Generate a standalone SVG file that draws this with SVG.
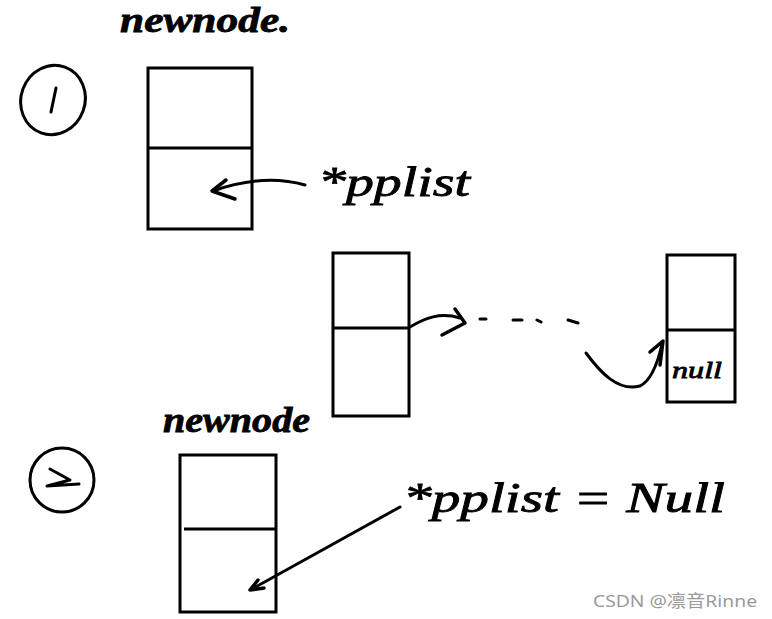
<svg xmlns="http://www.w3.org/2000/svg" width="772" height="619" viewBox="0 0 772 619">
<style>
.box{fill:none;stroke:#000;stroke-width:3}
.ln{fill:none;stroke:#000;stroke-width:3;stroke-linecap:round;stroke-linejoin:round}
.hd{fill:none;stroke:#000;stroke-width:3.5;stroke-linecap:round;stroke-linejoin:round}
.hw{font-family:"Liberation Serif","DejaVu Serif",serif;font-style:italic;fill:#000;stroke:#000;stroke-width:0.8}
.wm{font-family:"Noto Sans","Noto Sans CJK SC",sans-serif;fill:#9a9a9a;font-size:17px}
</style>
<rect width="772" height="619" fill="#fff"/>
<g id="step1">
<ellipse cx="53" cy="100" rx="32" ry="35" class="ln" transform="rotate(20 53 100)"/>
<path d="M56 88 L51 112" class="ln"/>
</g>
<g id="newnode1">
<text x="120" y="32" class="hw" font-size="36" font-weight="bold" textLength="170" lengthAdjust="spacingAndGlyphs">newnode.</text>
<rect x="148" y="68" width="104" height="161" class="box"/>
<line x1="148" y1="148" x2="252" y2="148" class="box"/>
</g>
<g id="label1">
<text x="318" y="196" class="hw" font-size="42" textLength="152" lengthAdjust="spacingAndGlyphs">*pplist</text>
</g>
<g id="nodeA">
<rect x="333" y="253" width="76" height="163" class="box"/>
<line x1="333" y1="328" x2="409" y2="328" class="box"/>
</g>
<g id="nodeB">
<rect x="667" y="255" width="68" height="147" class="box"/>
<line x1="667" y1="330" x2="735" y2="330" class="box"/>
<text x="672" y="378" class="hw" font-size="24" textLength="50" lengthAdjust="spacingAndGlyphs">null</text>
</g>
<g id="step2">
<circle cx="62" cy="480" r="32" class="ln"/>
<path d="M50 469 L70 480 L47 486 L79 484" class="ln"/>
</g>
<g id="newnode2">
<text x="163" y="432" class="hw" font-size="36" font-weight="bold" textLength="147" lengthAdjust="spacingAndGlyphs">newnode</text>
<rect x="180" y="455" width="96" height="157" class="box"/>
<line x1="184" y1="529" x2="276" y2="529" class="box"/>
</g>
<g id="label2">
<text x="403" y="512" class="hw" font-size="42" textLength="322" lengthAdjust="spacingAndGlyphs">*pplist = Null</text>
</g>
<g id="connectors">
<path d="M305 185 C280 178 250 178 213 191" class="ln"/>
<path d="M226 180 L212 191 L235 199" class="hd"/>
<path d="M410 327 C425 318 440 312 460 318" class="ln"/>
<path d="M455 309 L465 323 L442 335" class="hd"/>
<path d="M480 319 L486 319 M513 320 L522 320 M537 320 L541 322 M568 320 L578 323" class="ln" stroke-width="2"/>
<path d="M586 353 C600 372 618 392 640 386 C652 380 658 362 662 344" class="ln"/>
<path d="M650 352 L663 341 L660 365" class="hd"/>
<path d="M400 507 L252 589" class="ln"/>
<path d="M258 580 L250 590 L264 588" class="hd"/>
</g>
<text x="593" y="607" class="wm" textLength="164" lengthAdjust="spacingAndGlyphs">CSDN @凛音Rinne</text>
</svg>
